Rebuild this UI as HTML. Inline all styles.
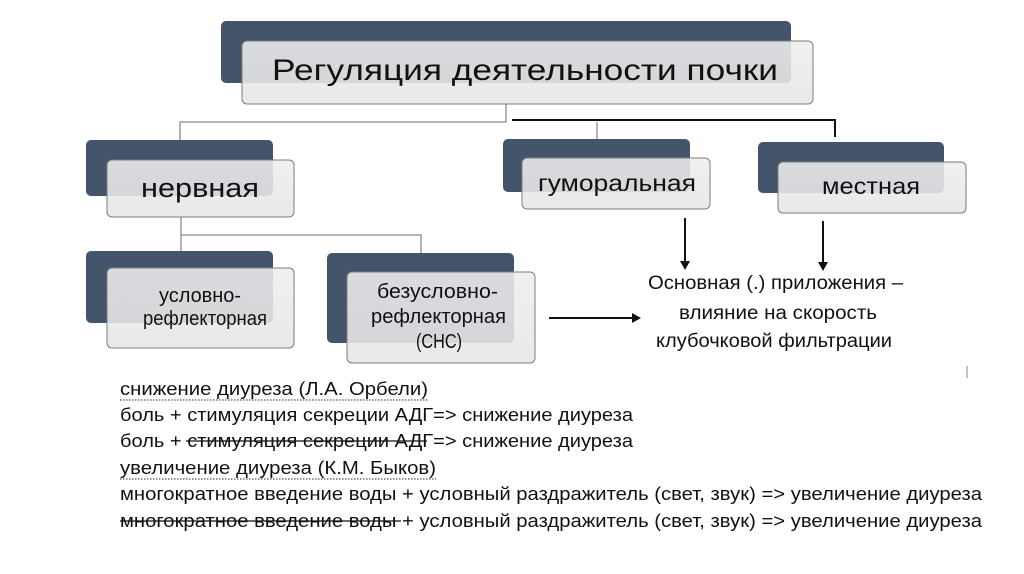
<!DOCTYPE html>
<html>
<head>
<meta charset="utf-8">
<style>
  html, body { margin: 0; padding: 0; background: #ffffff; }
  svg { display: block; }
  text { font-family: "Liberation Sans", "DejaVu Sans", sans-serif; fill: #111; }
</style>
</head>
<body>
<svg width="1024" height="574" viewBox="0 0 1024 574" xmlns="http://www.w3.org/2000/svg">
  <defs>
    <linearGradient id="lg" x1="0" y1="0" x2="0" y2="1">
      <stop offset="0" stop-color="#eeeeee"/>
      <stop offset="1" stop-color="#e6e6e6"/>
    </linearGradient>
  </defs>
  <rect x="0" y="0" width="1024" height="574" fill="#ffffff"/>

  <!-- connectors -->
  <g fill="none" stroke="#8c8c8c" stroke-width="1.3">
    <polyline points="506,104 506,122 180,122 180,141"/>
    <polyline points="597,122 597,139"/>
    <polyline points="181,217 181,235 421,235 421,253"/>
    <line x1="181" y1="235" x2="181" y2="251"/>
  </g>
  <g fill="none" stroke="#111" stroke-width="2">
    <polyline points="512,120 835,120 835,137"/>
  </g>

  <!-- main title -->
  <rect x="221" y="21" width="570" height="62" rx="5" fill="#44546A"/>
  <rect x="242" y="41" width="571" height="63" rx="5" fill="url(#lg)" fill-opacity="0.88" stroke="#7d7d7d" stroke-width="1"/>
  <text x="272" y="80" font-size="30" textLength="506" lengthAdjust="spacingAndGlyphs">Регуляция деятельности почки</text>

  <!-- нервная -->
  <rect x="86" y="140" width="187" height="56" rx="5" fill="#44546A"/>
  <rect x="107" y="160" width="187" height="57" rx="5" fill="url(#lg)" fill-opacity="0.88" stroke="#7d7d7d" stroke-width="1"/>
  <text x="141" y="197" font-size="27" textLength="118" lengthAdjust="spacingAndGlyphs">нервная</text>

  <!-- гуморальная -->
  <rect x="503" y="139" width="187" height="53" rx="5" fill="#44546A"/>
  <rect x="522" y="158" width="188" height="51" rx="5" fill="url(#lg)" fill-opacity="0.88" stroke="#7d7d7d" stroke-width="1"/>
  <text x="538" y="191" font-size="23" textLength="158" lengthAdjust="spacingAndGlyphs">гуморальная</text>

  <!-- местная -->
  <rect x="758" y="142" width="186" height="51" rx="5" fill="#44546A"/>
  <rect x="778" y="162" width="188" height="51" rx="5" fill="url(#lg)" fill-opacity="0.88" stroke="#7d7d7d" stroke-width="1"/>
  <text x="822" y="194" font-size="23" textLength="98" lengthAdjust="spacingAndGlyphs">местная</text>

  <!-- условно-рефлекторная -->
  <rect x="86" y="251" width="187" height="72" rx="5" fill="#44546A"/>
  <rect x="107" y="268" width="187" height="80" rx="5" fill="url(#lg)" fill-opacity="0.88" stroke="#7d7d7d" stroke-width="1"/>
  <text x="159" y="302" font-size="20" textLength="82" lengthAdjust="spacingAndGlyphs">условно-</text>
  <text x="143" y="325" font-size="20" textLength="124" lengthAdjust="spacingAndGlyphs">рефлекторная</text>

  <!-- безусловно-рефлекторная -->
  <rect x="327" y="253" width="187" height="90" rx="5" fill="#44546A"/>
  <rect x="347" y="272" width="188" height="91" rx="5" fill="url(#lg)" fill-opacity="0.88" stroke="#7d7d7d" stroke-width="1"/>
  <text x="377" y="298" font-size="20" textLength="121" lengthAdjust="spacingAndGlyphs">безусловно-</text>
  <text x="371" y="323" font-size="20" textLength="135" lengthAdjust="spacingAndGlyphs">рефлекторная</text>
  <text x="416" y="348" font-size="20" textLength="46" lengthAdjust="spacingAndGlyphs">(СНС)</text>

  <!-- arrows -->
  <g stroke="#111" stroke-width="2" fill="none">
    <line x1="685" y1="218" x2="685" y2="262"/>
    <line x1="823" y1="221" x2="823" y2="263"/>
    <line x1="549" y1="318" x2="633" y2="318"/>
  </g>
  <g fill="#111">
    <polygon points="680,261 690,261 685,270"/>
    <polygon points="818,262 828,262 823,271"/>
    <polygon points="632,313 632,323 641,318"/>
  </g>

  <!-- right text -->
  <text x="648" y="289" font-size="19" textLength="255" lengthAdjust="spacingAndGlyphs">Основная (.) приложения –</text>
  <text x="679" y="319" font-size="19" textLength="198" lengthAdjust="spacingAndGlyphs">влияние на скорость</text>
  <text x="656" y="347" font-size="19" textLength="236" lengthAdjust="spacingAndGlyphs">клубочковой фильтрации</text>

  <line x1="967" y1="366" x2="967" y2="378" stroke="#888" stroke-width="1"/>

  <!-- bottom text -->
  <text x="120" y="395" font-size="18" textLength="308" lengthAdjust="spacingAndGlyphs">снижение диуреза (Л.А. Орбели)</text>
  <line x1="120" y1="400" x2="428" y2="400" stroke="#555" stroke-width="1.2" stroke-dasharray="1.5 1.5"/>

  <text x="120" y="421" font-size="18" textLength="513" lengthAdjust="spacingAndGlyphs">боль + стимуляция секреции АДГ=&gt; снижение диуреза</text>

  <text x="120" y="447" font-size="18" textLength="513" lengthAdjust="spacingAndGlyphs">боль + стимуляция секреции АДГ=&gt; снижение диуреза</text>
  <line x1="186" y1="441" x2="427" y2="441" stroke="#111" stroke-width="1.3"/>

  <text x="120" y="474" font-size="18" textLength="316" lengthAdjust="spacingAndGlyphs">увеличение диуреза (К.М. Быков)</text>
  <line x1="120" y1="479" x2="436" y2="479" stroke="#555" stroke-width="1.2" stroke-dasharray="1.5 1.5"/>

  <text x="120" y="500" font-size="18" textLength="862" lengthAdjust="spacingAndGlyphs">многократное введение воды + условный раздражитель (свет, звук) =&gt; увеличение диуреза</text>

  <text x="120" y="527" font-size="18" textLength="862" lengthAdjust="spacingAndGlyphs">многократное введение воды + условный раздражитель (свет, звук) =&gt; увеличение диуреза</text>
  <line x1="120" y1="521" x2="401" y2="521" stroke="#111" stroke-width="1.3"/>
</svg>
</body>
</html>
